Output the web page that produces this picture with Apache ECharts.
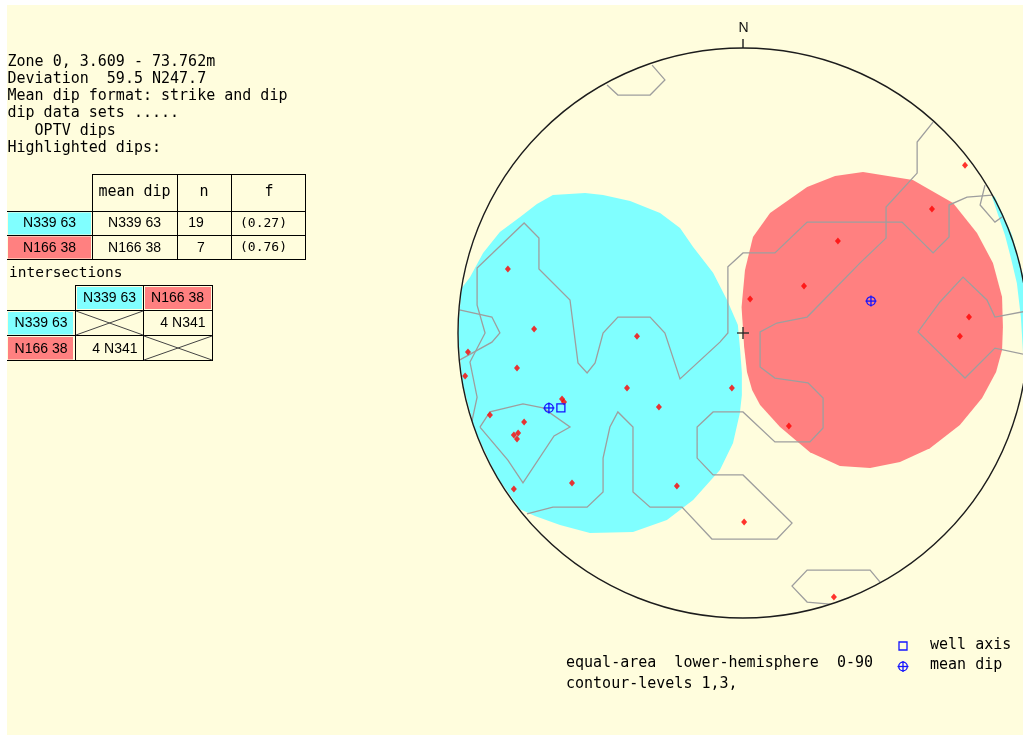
<!DOCTYPE html>
<html><head><meta charset="utf-8">
<script src="https://cdn.jsdelivr.net/npm/echarts@6/dist/echarts.min.js"></script>
<style>html,body{margin:0;padding:0;background:#fff;}#c{width:1023px;height:736px;}</style>
</head><body><div id="c"></div>
<script>
// ---------- data (equal-area net coordinates, net radius = 100) ----------
const netRadius = 100;
const dipPoints = [
  [-82.5,22.5],[-73.3,1.4],[-37.2,-1.1],[-96.5,-6.7],[-79.3,-12.3],[-97.5,-15.1],
  [-63.5,-23.2],[-62.8,-24.2],[-40.7,-19.3],[-3.9,-19.3],[-29.5,-26.0],[-88.8,-28.8],
  [-76.8,-31.2],[-78.9,-35.1],[-80.4,-35.8],[-79.3,-37.2],[-60.0,-52.6],[-23.2,-53.7],
  [-80.4,-54.7],[0.4,-66.3],[16.1,-32.6],[77.9,58.9],[66.3,43.5],[33.3,32.3],
  [21.4,16.5],[2.5,11.9],[79.3,5.6],[76.1,-1.1],[31.9,-92.6]
];
const meanDips = [[-68.1,-26.3],[44.9,11.2]];
const wellAxis = [[-63.9,-26.3]];

const cyanCone = [[-66.7,48.4],[-55.4,49.1],[-49.1,48.4],[-39.6,46.3],[-29.1,42.1],[-22.1,36.8],
  [-17.5,30.2],[-10.5,21.1],[-5.6,11.6],[-1.8,2.8],[-1.0,-6.0],[-0.4,-14.0],[-0.4,-21.8],
  [-1.1,-28.1],[-3.5,-38.6],[-8.1,-48.1],[-17.5,-58.6],[-26.7,-65.6],[-38.6,-69.8],
  [-53.7,-70.2],[-64.2,-67.4],[-73.0,-64.2],[-78.2,-61.8],[-86.6,-50],[-94.0,-34.2],
  [-98.5,-17.4],[-100,0],[-98.8,15.6],[-95.8,19.6],[-91.2,28.1],[-85.3,35.4],[-78.2,40.7],[-72.3,45.3]];
const cyanConeWrap = [[87.4,47.7],[89.5,41.4],[91.9,34.4],[94.0,26.3],[96.1,17.5],[97.5,5.6],
  [98.2,-6.0],[98.6,-16.5],[99.0,-17.5],[100.5,0],[99.0,17.5],[94.4,34.4],[88.3,48.0]];
const pinkCone = [[42.1,56.5],[59.6,53.7],[73.7,45.6],[82.1,35.1],[87.7,24.6],[90.9,12.6],
  [91.2,2.1],[90.9,-6.0],[88.8,-13.7],[83.9,-22.8],[76.1,-32.3],[65.6,-40.4],[55.1,-45.3],
  [44.6,-47.4],[34.0,-46.7],[23.5,-41.8],[13.0,-33.0],[6.0,-25.3],[3.2,-20.0],[1.4,-13.7],
  [0.4,-4.9],[-0.5,9.1],[0.7,22.1],[3.5,33.7],[9.5,42.1],[22.5,51.2],[32.3,55.1]];

const contour1 = [[-31.9,94.0],[-27.4,88.8],[-32.6,83.5],[-43.9,83.5],[-47.7,87.0]];
const contour2 = [[66.7,74.0],[61.1,67.0],[61.1,56.1],[50.2,44.2],[50.2,33.3],[41.1,24.6],
  [22.5,5.6],[11.9,3.5],[6.0,0.4],[6.0,-11.9],[11.2,-15.8],[22.8,-17.5],[28.1,-22.8],
  [28.1,-33.3],[23.5,-38.2],[11.2,-38.2],[0,-27.7],[-10.5,-27.7],[-16.1,-33.0],[-16.1,-43.9],
  [-10.5,-49.8],[0,-49.8],[17.2,-66.7],[11.9,-72.3],[-10.9,-72.3],[-21.4,-61.1],[-32.6,-61.1],
  [-38.6,-55.8],[-38.6,-33.0],[-43.9,-27.7],[-46.7,-33.0],[-49.1,-43.9],[-49.1,-55.8],
  [-54.7,-61.1],[-66.7,-61.1],[-75.8,-63.5]];
const contour3 = [[-95.1,-30.9],[-93.3,-22.5],[-95.8,-10.2],[-90.5,0],[-93.3,9.8],[-93.3,22.8],
  [-76.8,38.6],[-71.6,33.3],[-71.6,22.5],[-60.7,11.6],[-57.9,-10.5],[-54.7,-14.0],[-51.9,-10.5],
  [-49.1,0],[-43.9,5.6],[-32.6,5.6],[-27.4,0],[-22.1,-16.1],[-8.1,-3.2],[-5.3,0],[-5.3,23.2],
  [0,28.1],[11.2,28.1],[22.5,38.9],[55.8,38.9],[66.7,28.1],[72.3,33.7],[72.3,44.9],[78.6,47.7],[87.4,48.4]];
const contour4 = [[-99.5,8.1],[-88.1,5.6],[-85.3,0],[-88.1,-3.2],[-99.5,-9.5]];
const contour5 = [[-92.3,-33.0],[-88.8,-27.7],[-77.2,-24.9],[-70.2,-26.3],[-60.7,-33.0],
  [-66.3,-36.1],[-77.2,-52.6],[-82.5,-44.6],[-92.3,-33.0]];
const contour6 = [[84.9,51.9],[83.2,44.9],[88.4,38.9],[90.9,40.7]];
const contour7 = [[99.6,7.7],[88.4,5.6],[85.6,11.6],[77.2,19.6],[69.1,10.9],[61.4,0.4],
  [77.9,-15.8],[88.4,-5.3],[99.6,-7.7]];
const contour8 = [[48.1,-87.4],[44.6,-83.2],[22.5,-83.2],[17.2,-88.8],[22.5,-94.4],[30.5,-95.1]];
const contours = [contour1,contour2,contour3,contour4,contour5,contour6,contour7,contour8];

const infoLines = ['Zone 0, 3.609 - 73.762m','Deviation  59.5 N247.7','Mean dip format: strike and dip',
  'dip data sets .....','   OPTV dips','Highlighted dips:'];
const setNames = ['N339 63','N166 38'];
const meanDipLabels = ['N339 63','N166 38'];
const setCounts = ['19','7'];
const setFractions = ['(0.27)','(0.76)'];
const intersectionLabel = '4 N341';
const footnotes = ['equal-area  lower-hemisphere  0-90','contour-levels 1,3,'];
const legendLabels = ['well axis','mean dip'];

// ---------- styles ----------
const CREAM = '#fffddd', CYAN = '#80ffff', PINK = '#ff8080', GREY = '#9e9e9e', BLUE = '#1414ff';
const MONO = '"DejaVu Sans Mono", monospace';
const SANS = '"Liberation Sans", Arial, sans-serif';

function T(text, x, y, font, align, fill) {
  align = align || 'left';
  return {type:'text', x:x, y:y, silent:true, z:5,
    style:{text:text, font:font, fill:fill||'#000', align:align, textAlign:align,
      verticalAlign:'middle', textVerticalAlign:'middle'}};
}
function L(x1,y1,x2,y2,stroke,lw) {
  return {type:'line', silent:true, z:5, shape:{x1:x1,y1:y1,x2:x2,y2:y2},
    style:{stroke:stroke||'#000', lineWidth:lw||1}};
}
function R(x,y,w,h,fill) {
  return {type:'rect', silent:true, z:4, shape:{x:x,y:y,width:w,height:h}, style:{fill:fill}};
}

const g = [];
g.push({type:'rect', silent:true, z:0, shape:{x:7,y:5,width:1016,height:730}, style:{fill:CREAM}});
infoLines.forEach((s,i)=>g.push(T(s, 7.5, 62 + i*17.2, '15px '+MONO)));

// first table
const colours = [CYAN, PINK];
[174.5].forEach(y=>g.push(L(92,y,306,y)));
[211.5,235.5,259.5].forEach(y=>g.push(L(7,y,306,y)));
[92.5,177.5,231.5,305.5].forEach(x=>g.push(L(x,174,x,260)));
g.push(T('mean dip',134.5,192,'15px '+MONO,'center'));
g.push(T('n',204,192,'15px '+MONO,'center'));
g.push(T('f',269,192,'15px '+MONO,'center'));
const rowY = [223.5,248];
setNames.forEach((s,i)=>{
  g.push(R(8, i===0?212.5:236.5, 83, 22, colours[i]));
  g.push(T(s,49.5,rowY[i],'14px '+SANS,'center'));
  g.push(T(meanDipLabels[i],134.5,rowY[i],'14px '+SANS,'center'));
  g.push(T(setCounts[i], i===0?196:201, rowY[i],'14px '+SANS,'center'));
  g.push(T(setFractions[i],263.5,rowY[i],'13px '+MONO,'center'));
});

// intersections table
g.push(T('intersections',9,273,'14.5px '+MONO));
g.push(L(75,285.5,213,285.5));
[310.5,335.5,360.5].forEach(y=>g.push(L(7,y,213,y)));
[75.5,143.5,212.5].forEach(x=>g.push(L(x,285,x,361)));
g.push(R(77,287,65,22,CYAN)); g.push(R(145,287,66,22,PINK));
g.push(T(setNames[0],109.5,298,'14px '+SANS,'center'));
g.push(T(setNames[1],177.5,298,'14px '+SANS,'center'));
g.push(R(8,312,65,22.5,CYAN)); g.push(R(8,337,65,22.5,PINK));
g.push(T(setNames[0],41,323.5,'14px '+SANS,'center'));
g.push(T(setNames[1],41,349,'14px '+SANS,'center'));
g.push(L(76,311,143,335,'#444')); g.push(L(76,335,143,311,'#444'));
g.push(L(144,336,212,360,'#444')); g.push(L(144,360,212,336,'#444'));
g.push(T(intersectionLabel,205.5,323.5,'14px '+SANS,'right'));
g.push(T(intersectionLabel,137.5,349,'14px '+SANS,'right'));

// footnotes & legend
footnotes.forEach((s,i)=>g.push(T(s,566,663.5+i*21,'15px '+MONO)));
g.push(T(legendLabels[0],930,645.5,'15px '+MONO));
g.push(T(legendLabels[1],930,665,'15px '+MONO));
g.push({type:'rect', silent:true, z:5, shape:{x:899,y:642,width:8,height:8}, style:{fill:'none',stroke:BLUE,lineWidth:1.3}});
g.push({type:'circle', silent:true, z:5, shape:{cx:903,cy:666.5,r:4.3}, style:{fill:'none',stroke:BLUE,lineWidth:1.3}});
g.push(L(897.5,666.5,908.5,666.5,BLUE,1.3)); g.push(L(903,661,903,672,BLUE,1.3));

// ---------- series ----------
function polySeries(pts, style, z, closed) {
  return {type:'custom', coordinateSystem:'cartesian2d', data:[[0,0]], z:z, silent:true, clip:false,
    renderItem:(params, api)=>({type: closed?'polygon':'polyline',
      shape:{points: pts.map(p=>api.coord(p))}, style: style})};
}
const series = [];
series.push(polySeries(cyanCone, {fill:CYAN, stroke:'none'}, 1, true));
series.push(polySeries(cyanConeWrap, {fill:CYAN, stroke:'none'}, 1, true));
series.push(polySeries(pinkCone, {fill:PINK, stroke:'none'}, 1, true));
contours.forEach(c=>series.push(polySeries(c, {fill:'none', stroke:GREY, lineWidth:1.3}, 2, false)));
series.push({type:'custom', coordinateSystem:'cartesian2d', data:[[0,0]], z:3, silent:true, clip:false,
  renderItem:(params, api)=>{
    const c = api.coord([0,0]); const r = api.size([netRadius,0])[0];
    const s = {stroke:'#1c1c1c', lineWidth:1.4, fill:'none'};
    return {type:'group', children:[
      {type:'circle', shape:{cx:c[0],cy:c[1],r:r}, style:s},
      {type:'line', shape:{x1:c[0],y1:c[1]-r,x2:c[0],y2:c[1]-r-9}, style:s},
      {type:'text', style:{text:'N', x:c[0]+0.5, y:c[1]-r-20, font:'14px '+SANS, fill:'#111',
        align:'center', textAlign:'center', verticalAlign:'middle', textVerticalAlign:'middle'}},
      {type:'line', shape:{x1:c[0]-6,y1:c[1],x2:c[0]+6,y2:c[1]}, style:{stroke:'#222',lineWidth:1.3}},
      {type:'line', shape:{x1:c[0],y1:c[1]-6,x2:c[0],y2:c[1]+6}, style:{stroke:'#222',lineWidth:1.3}}
    ]};
  }});
series.push({type:'scatter', data:dipPoints, z:4, silent:true, symbol:'diamond', symbolSize:[6,7],
  itemStyle:{color:'#ff0000'}});
series.push({type:'custom', coordinateSystem:'cartesian2d', data:meanDips, z:5, silent:true, clip:false,
  renderItem:(params, api)=>{
    const p = api.coord([api.value(0), api.value(1)]);
    const s = {stroke:BLUE, lineWidth:1.3, fill:'none'};
    return {type:'group', children:[
      {type:'circle', shape:{cx:p[0],cy:p[1],r:4.3}, style:s},
      {type:'line', shape:{x1:p[0]-5.5,y1:p[1],x2:p[0]+5.5,y2:p[1]}, style:s},
      {type:'line', shape:{x1:p[0],y1:p[1]-5.5,x2:p[0],y2:p[1]+5.5}, style:s}
    ]};
  }});
series.push({type:'custom', coordinateSystem:'cartesian2d', data:wellAxis, z:5, silent:true, clip:false,
  renderItem:(params, api)=>{
    const p = api.coord([api.value(0), api.value(1)]);
    return {type:'rect', shape:{x:p[0]-4,y:p[1]-4,width:8,height:8},
      style:{stroke:BLUE, lineWidth:1.3, fill:'none'}};
  }});

const chart = echarts.init(document.getElementById('c'), null, {renderer:'canvas'});
chart.setOption({
  animation:false,
  backgroundColor:'#ffffff',
  grid:{left:458, top:48, width:570, height:570, containLabel:false, outerBoundsMode:'none'},
  xAxis:{type:'value', min:-netRadius, max:netRadius, show:false},
  yAxis:{type:'value', min:-netRadius, max:netRadius, show:false},
  graphic:{elements:g},
  series:series
});
</script></body></html>
